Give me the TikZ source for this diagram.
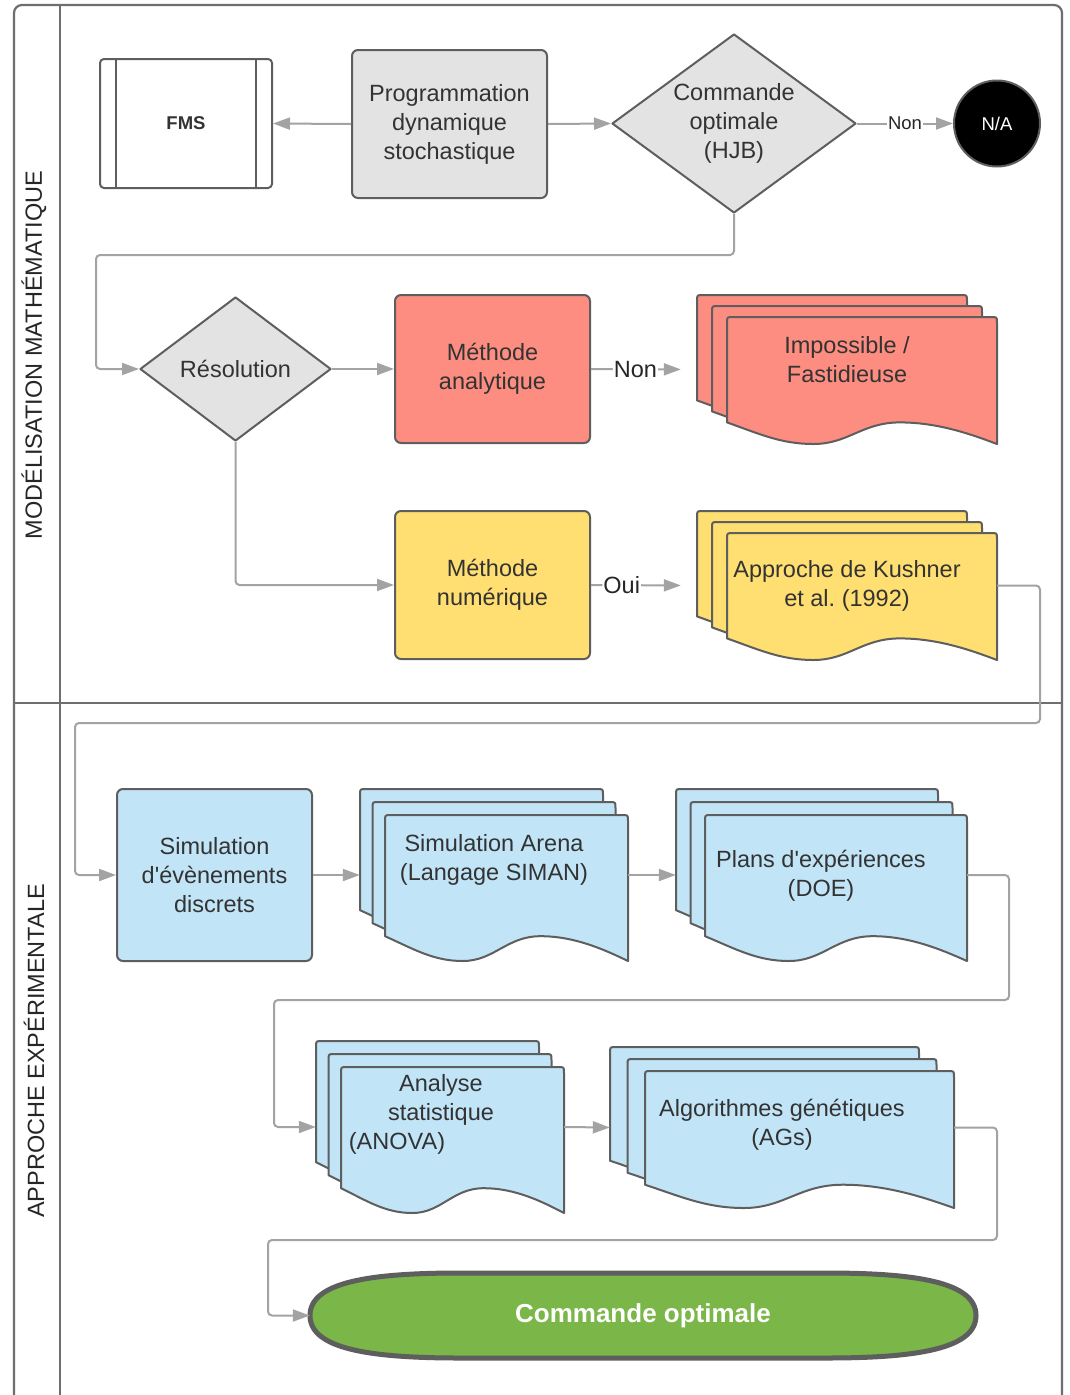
\documentclass[tikz,border=0pt]{standalone}
\usepackage{fontspec}
\setmainfont{Liberation Sans}
\usetikzlibrary{arrows.meta,shapes.geometric,fit}

\definecolor{strokegray}{HTML}{5E5E5E}
\definecolor{linkgray}{HTML}{A3A3A3}
\definecolor{framegray}{HTML}{6E6E6E}
\definecolor{fillgray}{HTML}{E3E3E3}
\definecolor{fillred}{HTML}{FC8D80}
\definecolor{fillyellow}{HTML}{FFDF71}
\definecolor{fillblue}{HTML}{C1E4F7}
\definecolor{fillgreen}{HTML}{7AB648}
\definecolor{textgray}{HTML}{333333}

\frenchspacing
\newcommand\apos{\textquotesingle}

\tikzset{
  shapeline/.style={draw=strokegray, line width=2pt, line join=round},
  txt/.style={text=textgray, font=\fontsize{23.5}{29}\selectfont, align=center, inner sep=0pt},
  procbox/.style={shapeline, txt, rounded corners=6pt, minimum width=195pt},
  decision/.style={shapeline, txt, diamond, fill=fillgray, shape aspect=1.36},
  conn/.style={draw=linkgray, line width=2pt, rounded corners=4pt,
    -{Triangle[length=17pt,width=12pt]}},
  lbl/.style={fill=white, text=black!85, inner sep=1pt},
  lanelabel/.style={rotate=90, text=black!85, font=\fontsize{23.5}{28}\selectfont, inner sep=0pt},
  stackarea/.style={inner sep=0pt}
}

% one document sheet: top-left (#2,#3), bottom-right (#4,#5), wavy lower edge
\newcommand\docsheet[5]{%
  \pgfmathsetmacro\docW{#4-(#2)}%
  \pgfmathsetmacro\docH{#5-(#3)}%
  \filldraw[shapeline, fill=#1]
    (#2,{#5-0.17*\docH}) -- (#2,#3+6) .. controls (#2,#3) .. (#2+6,#3)
    -- (#4-6,#3) .. controls (#4,#3) .. (#4,#3+6)
    -- (#4,#5)
    .. controls ({#4-0.1*\docW},{#5-0.08*\docH}) and ({#4-0.22*\docW},{#5-0.17*\docH}) .. ({#4-0.36*\docW},{#5-0.17*\docH})
    .. controls ({#4-0.5*\docW},{#5-0.17*\docH}) and ({#2+0.45*\docW},#5) .. ({#2+0.32*\docW},#5)
    .. controls ({#2+0.2*\docW},#5) and ({#2+0.12*\docW},{#5-0.08*\docH}) .. (#2,{#5-0.17*\docH})
    -- cycle;%
}

% stack of three sheets; #1 name of the area node, #2 fill,
% (#3,#4) back top-left, (#5,#6) front bottom-right, (#7,#8) offset
\newcommand\docstack[8]{%
  \docsheet{#2}{#3}{#4}{#5-2*#7}{#6-2*#8}%
  \docsheet{#2}{#3+#7}{#4+#8}{#5-#7}{#6-#8}%
  \docsheet{#2}{#3+2*#7}{#4+2*#8}{#5}{#6}%
  \node[stackarea, fit={(#3,#4) (#5,#6)}] (#1) {};%
}

\begin{document}
\begin{tikzpicture}[x=1pt, y=-1pt]
\useasboundingbox (0,0) rectangle (1069,1395);
\fill[white] (0,0) rectangle (1069,1395);

% pool frame and lanes
\draw[draw=framegray, line width=2.2pt, rounded corners=8pt]
  (14,1400) -- (14,5) -- (1062,5) -- (1062,1400);
\draw[draw=framegray, line width=2.2pt] (60,5) -- (60,1400);
\draw[draw=framegray, line width=2.2pt] (14,703) -- (1062,703);
\node[lanelabel] (laneA) at (34,355) {MODÉLISATION MATHÉMATIQUE};
\node[lanelabel] (laneB) at (34,1051) {APPROCHE EXPÉRIMENTALE};

% first row
\node[shapeline, rounded corners=4pt, fill=white, minimum width=172pt, minimum height=129pt,
  text=textgray, font=\bfseries\fontsize{18.5}{22}\selectfont] (fms) at (186,123.5) {FMS};
\draw[shapeline] ([xshift=17pt]fms.north west) -- ([xshift=17pt]fms.south west)
  ([xshift=-17pt]fms.north east) -- ([xshift=-17pt]fms.south east);
\node[procbox, fill=fillgray, minimum height=148pt] (prog) at (449.5,124)
  {Programmation\\dynamique\\stochastique};
\node[decision, minimum width=244pt, minimum height=179pt] (hjb) at (734,123.5)
  {Commande\\optimale\\(HJB)};
\node[circle, draw=strokegray, line width=2pt, fill=black, minimum size=86pt, inner sep=0pt,
  text=white, font=\fontsize{18.5}{22}\selectfont] (na) at (997,123.5) {N/A};

% second and third rows
\node[decision, minimum width=191pt, minimum height=144pt] (res) at (235.5,369) {Résolution};
\node[procbox, fill=fillred, minimum height=148pt] (ana) at (492.5,369) {Méthode\\analytique};
\node[procbox, fill=fillyellow, minimum height=148pt] (num) at (492.5,585) {Méthode\\numérique};

\docstack{imp}{fillred}{697}{295}{997}{444}{15}{11}
\node[txt] (impT) at (847,360) {Impossible /\\Fastidieuse};
\docstack{kush}{fillyellow}{697}{511}{997}{660}{15}{11}
\node[txt] (kushT) at (847,586) {Approche de Kushner\\et al. (1992)};

% experimental lane
\node[procbox, fill=fillblue, minimum height=172pt] (sim) at (214.5,875)
  {Simulation\\d\apos évènements\\discrets};
\docstack{arena}{fillblue}{360}{789}{628}{961}{12.5}{13}
\node[txt] (arenaT) at (494,860) {Simulation Arena\\(Langage SIMAN)};
\docstack{doe}{fillblue}{676}{789}{967}{961}{14.5}{13}
\node[txt] (doeT) at (821,876) {Plans d\apos expériences\\(DOE)};
\docstack{anova}{fillblue}{316}{1041}{564}{1213}{12.5}{13}
\node[txt] (anovaT) at (441,1114) {Analyse\\statistique\\(ANOVA)\hspace*{88pt}};
\docstack{ag}{fillblue}{610}{1047}{954}{1208}{17.5}{12}
\node[txt] (agT) at (782,1125) {Algorithmes génétiques\\(AGs)};

\filldraw[draw=strokegray, line width=5pt, fill=fillgreen]
  (310,1315.5) .. controls (310,1282) and (370,1273) .. (460,1273)
  -- (826,1273) .. controls (916,1273) and (976,1282) .. (976,1315.5)
  .. controls (976,1349) and (916,1358) .. (826,1358)
  -- (460,1358) .. controls (370,1358) and (310,1349) .. (310,1315.5) -- cycle;
\node[minimum width=666pt, minimum height=85pt, inner sep=0pt, text=white,
  font=\bfseries\fontsize{26}{30}\selectfont] (cmd) at (643,1315.5) {Commande optimale};

% connectors
\draw[conn] (prog.west) -- (fms.east);
\draw[conn] (prog.east) -- (hjb.west);
\draw[conn] (hjb.east) -- node[lbl, font=\fontsize{18.5}{22}\selectfont] {Non} (na.west);
\draw[conn] (hjb.south) |- (96,255) |- (res.west);
\draw[conn] (res.east) -- (ana.west);
\draw[conn] (res.south) |- (num.west);
\draw[conn, shorten >=16pt] (ana.east) -- node[lbl, txt, text=black!85, fill=white, inner sep=1pt, pos=0.42] {Non} (imp.west);
\draw[conn, shorten >=16pt] (num.east) -- node[lbl, txt, text=black!85, fill=white, inner sep=1pt, pos=0.29] {Oui} (kush.west);
\draw[conn] (kush.east) -| (1040,723) -- (75,723) |- (sim.west);
\draw[conn] (sim.east) -- (arena.west);
\draw[conn] (arena.east) -- (doe.west);
\draw[conn] (doe.east) -| (1009,1000) -- (274,1000) |- (anova.west);
\draw[conn] (anova.east) -- (ag.west);
\draw[conn] (ag.east) -| (997,1240) -- (268,1240) |- (cmd.west);
\end{tikzpicture}
\end{document}
